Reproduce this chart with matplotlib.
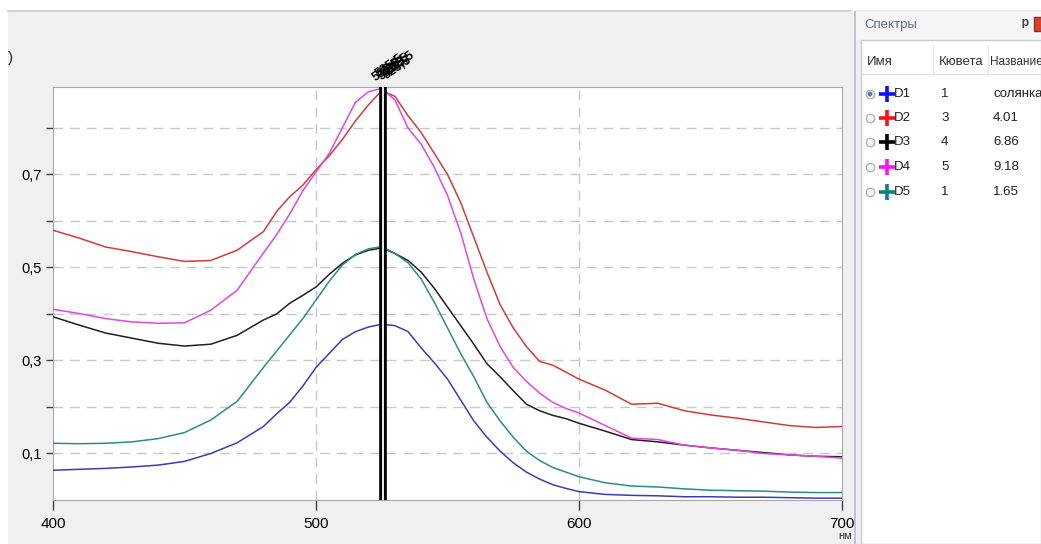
#!/usr/bin/env python3
# -*- coding: utf-8 -*-
"""
Absorption spectra D1..D5 with cursor line at the peak, plus the
'Спектры' list panel on the right.
"""

import matplotlib
matplotlib.use('Agg')
import matplotlib.pyplot as plt
from matplotlib.patches import Rectangle

plt.rcParams['font.family'] = ['Liberation Sans', 'DejaVu Sans']

# wavelength grid, nm
wl = [400, 410, 420, 430, 440, 450, 460, 470, 480,
      485, 490, 495, 500, 505, 510, 515, 520, 525, 530, 535, 540,
      545, 550, 555, 560, 565, 570, 575, 580, 585, 590, 595, 600,
      610, 620, 630, 640, 650, 660, 670, 680, 690, 700]

# D1 - blue
d1 = [0.064, 0.066, 0.068, 0.071, 0.075, 0.083, 0.100, 0.123, 0.158,
      0.185, 0.210, 0.245, 0.285, 0.315, 0.345, 0.362, 0.372, 0.378, 0.375, 0.362, 0.327,
      0.295, 0.260, 0.215, 0.170, 0.135, 0.105, 0.080, 0.060, 0.045, 0.033, 0.025, 0.018,
      0.012, 0.010, 0.009, 0.007, 0.007, 0.006, 0.006, 0.005, 0.004, 0.004]

# D2 - red
d2 = [0.580, 0.563, 0.544, 0.534, 0.523, 0.513, 0.515, 0.537, 0.577,
      0.620, 0.652, 0.677, 0.710, 0.740, 0.775, 0.815, 0.850, 0.880, 0.868, 0.826, 0.790,
      0.745, 0.700, 0.640, 0.565, 0.490, 0.420, 0.370, 0.330, 0.298, 0.290, 0.275, 0.260,
      0.236, 0.206, 0.208, 0.192, 0.183, 0.176, 0.168, 0.160, 0.156, 0.158]

# D3 - black
d3 = [0.394, 0.376, 0.359, 0.348, 0.337, 0.331, 0.335, 0.354, 0.387,
      0.400, 0.423, 0.440, 0.458, 0.485, 0.509, 0.527, 0.537, 0.542, 0.530, 0.515, 0.490,
      0.455, 0.415, 0.375, 0.335, 0.293, 0.265, 0.235, 0.206, 0.192, 0.182, 0.175, 0.165,
      0.148, 0.130, 0.125, 0.118, 0.112, 0.107, 0.102, 0.097, 0.094, 0.093]

# D4 - magenta
d4 = [0.410, 0.401, 0.390, 0.383, 0.380, 0.381, 0.408, 0.451, 0.531,
      0.570, 0.615, 0.665, 0.705, 0.745, 0.800, 0.855, 0.878, 0.885, 0.860, 0.800, 0.765,
      0.715, 0.655, 0.575, 0.475, 0.390, 0.330, 0.285, 0.255, 0.230, 0.210, 0.197, 0.187,
      0.160, 0.133, 0.130, 0.118, 0.112, 0.107, 0.100, 0.097, 0.094, 0.090]

# D5 - teal
d5 = [0.122, 0.121, 0.122, 0.125, 0.132, 0.145, 0.172, 0.212, 0.285,
      0.320, 0.355, 0.390, 0.430, 0.470, 0.505, 0.528, 0.540, 0.545, 0.530, 0.510, 0.475,
      0.425, 0.370, 0.315, 0.265, 0.210, 0.170, 0.135, 0.105, 0.085, 0.070, 0.060, 0.050,
      0.037, 0.030, 0.028, 0.024, 0.021, 0.020, 0.019, 0.017, 0.016, 0.016]

names = ['D1', 'D2', 'D3', 'D4', 'D5']
cuvettes = ['1', '3', '4', '5', '1']
titles = ['солянка', '4.01', '6.86', '9.18', '1.65']
line_colors = ['#3c3cb4', '#d03c3c', '#202020', '#e048e0', '#2e8c84']
cross_colors = ['#1010ff', '#ff1010', '#000000', '#ff10ff', '#108080']

cursor_wl = 525.5
y_ticks = [0.1, 0.2, 0.3, 0.4, 0.5, 0.6, 0.7, 0.8]
y_labels = ['0,1', '', '0,3', '', '0,5', '', '0,7', '']
x_ticks = [400, 500, 600, 700]

W, H = 1041, 544
fig = plt.figure(figsize=(W / 100, H / 100), dpi=100)
fig.patch.set_facecolor('#f0f0f0')

# white strip at the very top / left edge of the window
fig.patches.append(Rectangle((0, 1 - 10 / H), 1, 10 / H, transform=fig.transFigure,
                             facecolor='white', edgecolor='none', zorder=0))
fig.patches.append(Rectangle((0, 0), 8 / W, 1, transform=fig.transFigure,
                             facecolor='white', edgecolor='none', zorder=0))
fig.lines.append(plt.Line2D([8 / W, 850 / W], [1 - 10.5 / H, 1 - 10.5 / H],
                            transform=fig.transFigure, color='#d4cec4', lw=1.2))

#%% right-hand panel 'Спектры' (added first so the main axes sit on top)
pan = fig.add_axes([853 / W, 0, (W - 853) / W, 1])
pan.set_xlim(853, W)
pan.set_ylim(H, 0)
pan.axis('off')

pan.plot([855, 855], [12, H], color='#b4bccc', lw=1.2)
pan.add_patch(Rectangle((856, 12), W - 856, 28, facecolor='#f6f6f6', edgecolor='none'))
pan.add_patch(Rectangle((861, 40), W - 861, H - 40, facecolor='white',
                        edgecolor='#c8ccd4', lw=1))
pan.text(864, 25, 'Спектры', fontsize=9.5, color='#5c6c84', va='center')
pan.text(1022, 25, 'ᵖ', fontsize=13, fontweight='bold', color='#404040', va='center')
pan.add_patch(Rectangle((1034, 17), 10, 14, facecolor='#d84030', edgecolor='#903020'))

# header row with faint separators
pan.plot([862, W], [74, 74], color='#e4e6ea', lw=1)
for xs in [933, 988]:
    pan.plot([xs, xs], [46, 74], color='#e4e6ea', lw=1)
pan.text(867, 62, 'Имя', fontsize=9.5, color='#303030', va='center')
pan.text(939, 62, 'Кювета', fontsize=9.5, color='#303030', va='center')
pan.text(990, 62, 'Название', fontsize=8.5, color='#303030', va='center')

row_y = [94, 118, 142, 167, 192]
for i, y in enumerate(row_y):
    pan.scatter([870], [y], s=38, facecolor='#f4f4f4', edgecolor='#a8a8a8', lw=0.8)
    if i == 0:
        pan.scatter([870], [y], s=12, facecolor='#5878b8', edgecolor='none')
    pan.plot([887], [y], marker='+', markersize=11, mew=2.6,
             color=cross_colors[i], linestyle='none')
    pan.text(894, y, names[i], fontsize=9.5, color='#202020', va='center')
    pan.text(941, y, cuvettes[i], fontsize=9.5, color='#202020', va='center')
    pan.text(993, y, titles[i], fontsize=9.5, color='#202020', va='center')

#%% main plot
ax = fig.add_axes([53 / W, 1 - 500 / H, (842 - 53) / W, (500 - 87) / H])
ax.set_facecolor('white')

for ys, c in zip([d1, d2, d3, d4, d5], line_colors):
    ax.plot(wl, ys, color=c, lw=1.1, zorder=3)

# cursor: black double line
ax.axvline(cursor_wl, color='black', lw=5.5, zorder=5)
ax.axvline(cursor_wl, color='white', lw=1.3, zorder=6)

ax.set_xlim(400, 700)
ax.set_ylim(0.0, 0.888)
ax.set_xticks(x_ticks)
ax.set_xticklabels([str(t) for t in x_ticks], fontsize=11)
ax.set_yticks(y_ticks)
ax.set_yticklabels(y_labels, fontsize=10.5)
ax.tick_params(axis='both', direction='out', length=5, width=1,
               color='#404040', pad=3)
ax.tick_params(axis='x', length=7, pad=5)

for v in y_ticks:
    ax.axhline(v, color='#c8c8c8', lw=1, dashes=(7, 5), zorder=1)
for v in [500, 600]:
    ax.axvline(v, color='#c8c8c8', lw=1, dashes=(7, 5), zorder=1)

for s in ax.spines.values():
    s.set_color('#a8a8a8')

# jumbled cursor labels above the plot
for dx, dy in [(-4, 0), (-2, 3), (0, 1), (2, 4), (4, 2), (6, 5)]:
    ax.annotate('525,5', xy=(cursor_wl, 0.888), xycoords='data',
                xytext=(dx, 2 + dy), textcoords='offset points',
                rotation=35, rotation_mode='anchor', fontsize=9,
                fontweight='bold', color='black',
                ha='left', va='bottom', annotation_clip=False)

fig.text(8 / W, 1 - 58 / H, ')', fontsize=11, color='#303030', va='center')
fig.text(838 / W, 1 - 531 / H, 'нм', fontsize=8, color='#303030', va='top')

fig.savefig('out.png', dpi=100, facecolor=fig.get_facecolor())
